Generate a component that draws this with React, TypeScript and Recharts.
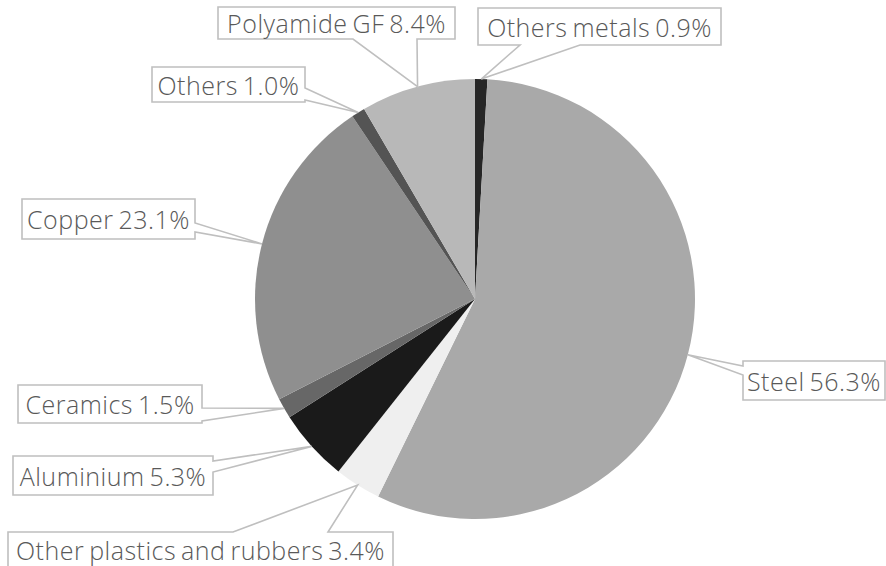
import React from "react";
import { PieChart, Pie, Cell } from "recharts";

const materials = [
  "Others metals",
  "Steel",
  "Other plastics and rubbers",
  "Aluminium",
  "Ceramics",
  "Copper",
  "Others",
  "Polyamide GF",
];
const shares = [0.9, 56.3, 3.4, 5.3, 1.5, 23.1, 1.0, 8.4];
const colors = ["#262626", "#a9a9a9", "#efefef", "#1a1a1a", "#676767", "#8f8f8f", "#545454", "#b8b8b8"];

// callout box layout: x, y, w, h, side the pointer leaves from, two base offsets on that side
const boxes = [
  { x: 478, y: 8, w: 243, h: 37, side: "bottom", b1: 520, b2: 580 },
  { x: 743, y: 361, w: 142, h: 39, side: "left", b1: 366, b2: 375 },
  { x: 8, y: 532, w: 385, h: 40, side: "top", b1: 233, b2: 328 },
  { x: 13, y: 456, w: 200, h: 39, side: "right", b1: 461, b2: 472 },
  { x: 18, y: 385, w: 184, h: 38, side: "right", b1: 408, b2: 421 },
  { x: 22, y: 199, w: 173, h: 40, side: "right", b1: 223, b2: 232 },
  { x: 152, y: 67, w: 153, h: 35, side: "right", b1: 88, b2: 100 },
  { x: 218, y: 7, w: 237, h: 32, side: "bottom", b1: 353, b2: 417 },
];

const data = materials.map((name, i) => ({ name, value: shares[i] }));

const RADIAN = Math.PI / 180;

const renderLabel = (props: any) => {
  const { cx, cy, midAngle, outerRadius, index } = props;
  const b = boxes[index];
  const tx = cx + outerRadius * Math.cos(-midAngle * RADIAN);
  const ty = cy + outerRadius * Math.sin(-midAngle * RADIAN);
  const { x, y, w, h } = b;
  let d = "";
  if (b.side === "bottom") {
    d = `M${x},${y} H${x + w} V${y + h} H${b.b2} L${tx},${ty} L${b.b1},${y + h} H${x} Z`;
  } else if (b.side === "right") {
    d = `M${x},${y} H${x + w} V${b.b1} L${tx},${ty} L${x + w},${b.b2} V${y + h} H${x} Z`;
  } else if (b.side === "left") {
    d = `M${x},${y} H${x + w} V${y + h} H${x} V${b.b2} L${tx},${ty} L${x},${b.b1} Z`;
  } else {
    d = `M${x},${y} H${b.b1} L${tx},${ty} L${b.b2},${y} H${x + w} V${y + h} H${x} Z`;
  }
  const textY = b.side === "top" ? y + 18 : y + h / 2;
  return (
    <g key={`lbl-${index}`}>
      <path d={d} fill="#ffffff" stroke="#bfbfbf" strokeWidth={1.6} strokeLinejoin="miter" />
      <text
        x={x + w / 2}
        y={textY}
        textAnchor="middle"
        dominantBaseline="central"
        fill="#595959"
        fontFamily="'Open Sans', sans-serif"
        fontSize={25}
        fontWeight={300}
        letterSpacing={0.5}
        wordSpacing={-2}
      >
        {`${materials[index]} ${shares[index].toFixed(1)}%`}
      </text>
    </g>
  );
};

export default function App() {
  return (
    <div style={{ position: "absolute", left: 0, top: 0, width: 886, height: 566, background: "#ffffff" }}>
      <PieChart width={886} height={566} margin={{ top: 0, right: 0, bottom: 0, left: 0 }}>
        <Pie
          data={data}
          dataKey="value"
          nameKey="name"
          cx={475}
          cy={299}
          outerRadius={220}
          startAngle={90}
          endAngle={-270}
          stroke="none"
          label={renderLabel}
          labelLine={false}
          isAnimationActive={false}
        >
          {data.map((d, i) => (
            <Cell key={d.name} fill={colors[i]} />
          ))}
        </Pie>
      </PieChart>
    </div>
  );
}
